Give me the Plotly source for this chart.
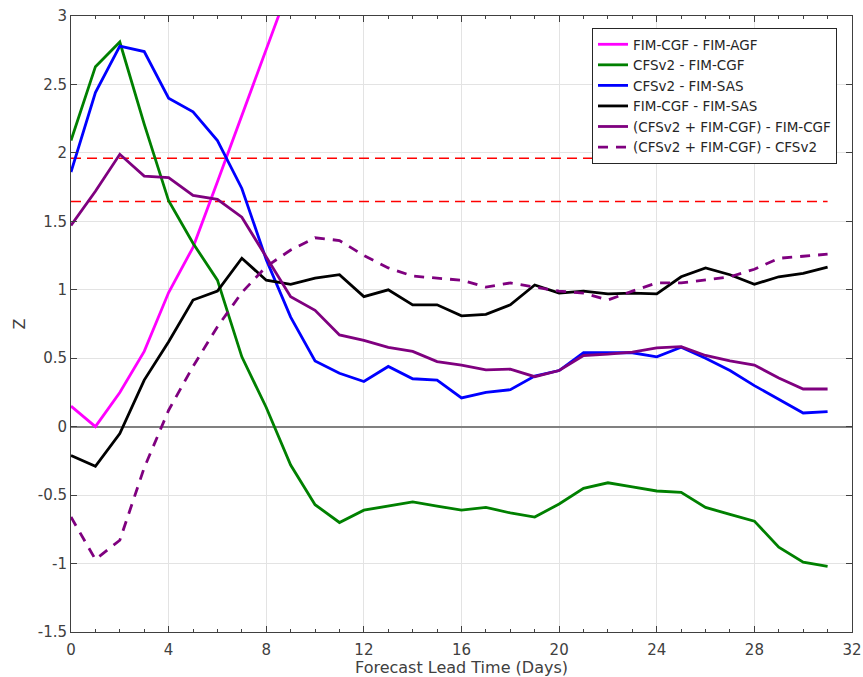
import plotly.graph_objects as go

days = list(range(32))

fim_cgf_agf_days = list(range(10))
fim_cgf_agf = [0.15, 0.0, 0.25, 0.55, 0.98, 1.31, 1.79, 2.27, 2.76, 3.24]

cfsv2_fim_cgf = [2.09, 2.63, 2.81, 2.21, 1.65, 1.34, 1.07, 0.51, 0.14, -0.28,
                 -0.57, -0.70, -0.61, -0.58, -0.55, -0.58, -0.61, -0.59, -0.63, -0.66,
                 -0.565, -0.45, -0.41, -0.44, -0.47, -0.48, -0.59, -0.64, -0.69, -0.88,
                 -0.99, -1.02]

cfsv2_fim_sas = [1.86, 2.44, 2.78, 2.74, 2.40, 2.30, 2.09, 1.74, 1.22, 0.80,
                 0.48, 0.39, 0.33, 0.44, 0.35, 0.34, 0.21, 0.25, 0.27, 0.37,
                 0.41, 0.54, 0.54, 0.54, 0.51, 0.58, 0.50, 0.41, 0.30, 0.20,
                 0.10, 0.11]

fim_cgf_fim_sas = [-0.21, -0.29, -0.05, 0.34, 0.62, 0.925, 0.99, 1.23, 1.07, 1.04,
                   1.085, 1.11, 0.95, 1.00, 0.89, 0.89, 0.81, 0.82, 0.89, 1.035,
                   0.975, 0.99, 0.97, 0.975, 0.97, 1.095, 1.16, 1.11, 1.04, 1.095,
                   1.12, 1.165]

comb_minus_fim_cgf = [1.47, 1.72, 1.99, 1.83, 1.82, 1.69, 1.66, 1.53, 1.24, 0.95,
                      0.85, 0.67, 0.63, 0.58, 0.55, 0.475, 0.45, 0.415, 0.42, 0.365,
                      0.41, 0.52, 0.53, 0.545, 0.575, 0.585, 0.52, 0.48, 0.45, 0.355,
                      0.275, 0.275]

comb_minus_cfsv2 = [-0.66, -0.97, -0.83, -0.30, 0.12, 0.44, 0.73, 0.98, 1.17, 1.29,
                    1.38, 1.36, 1.25, 1.16, 1.10, 1.085, 1.07, 1.02, 1.05, 1.02,
                    0.99, 0.975, 0.925, 0.99, 1.05, 1.05, 1.07, 1.095, 1.15, 1.23,
                    1.245, 1.26]

sig_levels = [1.96, 1.645]
sig_days = [0, 31]

x_ticks = [0, 4, 8, 12, 16, 20, 24, 28, 32]
y_ticks = [-1.5, -1, -0.5, 0, 0.5, 1, 1.5, 2, 2.5, 3]
y_tick_labels = ["-1.5", "-1", "-0.5", "0", "0.5", "1", "1.5", "2", "2.5", "3"]

fig = go.Figure()

for lvl in sig_levels:
    fig.add_trace(go.Scatter(x=sig_days, y=[lvl, lvl], mode="lines",
                             line=dict(color="rgb(255,0,0)", width=1.5, dash="10px,6px"),
                             showlegend=False, hoverinfo="skip"))

series = [
    ("FIM-CGF - FIM-AGF", fim_cgf_agf_days, fim_cgf_agf, "#ff00ff", "solid"),
    ("CFSv2 - FIM-CGF", days, cfsv2_fim_cgf, "#008000", "solid"),
    ("CFSv2 - FIM-SAS", days, cfsv2_fim_sas, "#0000ff", "solid"),
    ("FIM-CGF - FIM-SAS", days, fim_cgf_fim_sas, "#000000", "solid"),
    ("(CFSv2 + FIM-CGF) - FIM-CGF", days, comb_minus_fim_cgf, "#7f007f", "solid"),
    ("(CFSv2 + FIM-CGF) - CFSv2", days, comb_minus_cfsv2, "#7f007f", "10px,8px"),
]
for name, xs, ys, col, dash in series:
    fig.add_trace(go.Scatter(x=xs, y=ys, mode="lines", name=name,
                             line=dict(color=col, width=2.8, dash=dash)))

axis_font = dict(family="DejaVu Sans", size=15, color="#404040")
fig.update_layout(
    width=863, height=677,
    margin=dict(l=71, r=11, t=16, b=45),
    paper_bgcolor="white", plot_bgcolor="white",
    font=dict(family="DejaVu Sans", color="#262626"),
    legend=dict(x=0.9808, y=0.9805, xanchor="right", yanchor="top",
                bgcolor="white", bordercolor="#262626", borderwidth=1,
                font=dict(family="DejaVu Sans", size=13.5, color="#262626"),
                tracegroupgap=0, itemwidth=30),
    xaxis=dict(range=[0, 32], tickvals=x_ticks, ticktext=[str(v) for v in x_ticks],
               showgrid=True, gridcolor="#e3e3e3", gridwidth=1,
               zeroline=False, showline=True, linecolor="#404040", linewidth=1,
               mirror="allticks", ticks="inside", ticklen=6, tickcolor="#404040",
               minor=dict(dtick=1, ticks="inside", ticklen=3, tickcolor="#404040", showgrid=False),
               tickfont=axis_font, ticklabelstandoff=4,
               title=dict(text="Forecast Lead Time (Days)", font=dict(family="DejaVu Sans", size=16, color="#404040"),
                          standoff=0),
               automargin=False),
    yaxis=dict(range=[-1.5, 3], tickvals=y_ticks, ticktext=y_tick_labels,
               showgrid=True, gridcolor="#e3e3e3", gridwidth=1,
               zeroline=True, zerolinecolor="#808080", zerolinewidth=1.5,
               showline=True, linecolor="#404040", linewidth=1,
               mirror="allticks", ticks="inside", ticklen=6, tickcolor="#404040",
               tickfont=axis_font,
               title=dict(text="Z", font=dict(family="DejaVu Sans", size=16, color="#404040"),
                          standoff=8),
               automargin=False),
)

fig.write_html("out.html")
